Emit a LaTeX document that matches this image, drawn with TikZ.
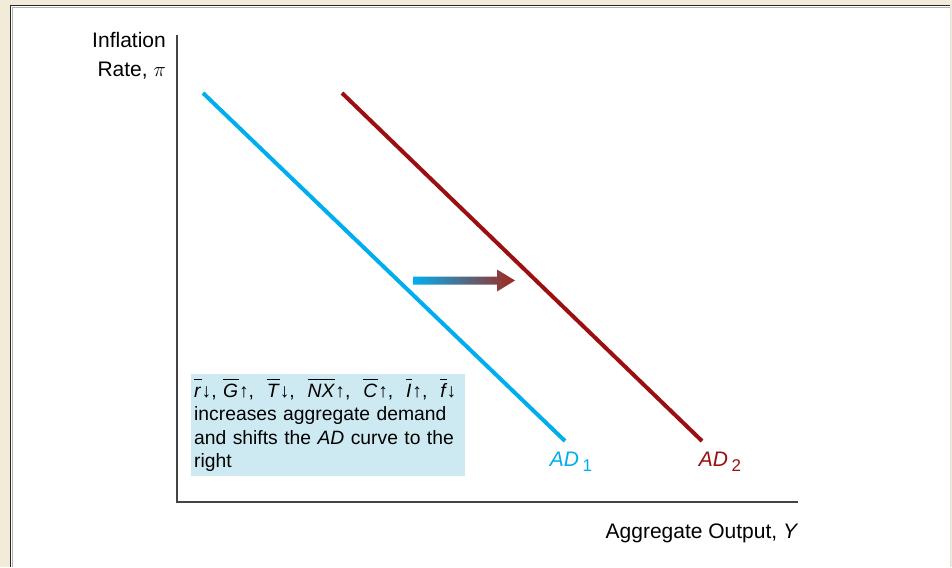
\documentclass[tikz,border=0pt]{standalone}
\usepackage{fontspec}
\setmainfont{Liberation Sans}
\usetikzlibrary{positioning}
\definecolor{adblue}{HTML}{00AEEF}
\definecolor{adred}{HTML}{9B0F10}
\definecolor{arrred}{HTML}{A3281C}
\definecolor{boxblue}{HTML}{CDEAF2}
\definecolor{pagebg}{HTML}{F3EBDA}
\definecolor{axisgray}{HTML}{444444}
\newcommand{\barit}[1]{$\overline{\raisebox{0pt}[16.2pt][0pt]{\itshape #1\kern1pt}}$}
\newcommand{\adsub}[1]{\,\raisebox{-5pt}{\fontsize{17}{17}\selectfont #1}}

\begin{document}
\begin{tikzpicture}[x=1pt,y=-1pt,font=\fontsize{21}{25}\selectfont,
  axis/.style={axisgray,line width=2.4pt},
  curve/.style={line width=4pt},
  lab/.style={inner sep=0pt},
  note/.style={fill=boxblue,text width=268pt,minimum height=102pt,align=left,
               inner xsep=3pt,inner ysep=4pt,anchor=north west,
               font=\fontsize{19.3}{23.5}\selectfont}]

% ---------------- page and panel --------------------------------------------
\fill[pagebg] (0,0) rectangle (952,567);
\fill[white] (10,5) rectangle (950,567);
\draw[black!85,line width=1.3pt] (10.6,567) -- (10.6,5.6) -- (950,5.6);
\draw[gray!60,line width=0.8pt] (12.2,567) -- (12.2,7.2) -- (950,7.2);
\draw[gray!25,line width=0.8pt] (950.4,6) -- (950.4,567);

% ---------------- axes -------------------------------------------------------
\coordinate (origin) at (177,502);
\draw[axis] (177,35) -- (origin) -- (798,502);
\node[lab,align=right,anchor=north east,font=\fontsize{21}{29}\selectfont]
  (infl) at (166,32) {Inflation\\Rate, $\pi$};
\node[lab] (output) at (702,533) {Aggregate Output, \textit{Y}};

% ---------------- the two demand curves --------------------------------------
\coordinate (ad1top) at (203,93);
\coordinate (ad1bot) at (565,441);
\coordinate (ad2top) at (342,93);
\coordinate (ad2bot) at (702,441);
\draw[curve,adblue] (ad1top) -- (ad1bot);
\draw[curve,adred] (ad2top) -- (ad2bot);
\node[lab,adblue] (ad1) at (571,462) {\textit{AD}\adsub{1}};
\node[lab,adred] (ad2) at (720,462) {\textit{AD}\adsub{2}};

% ---------------- shift arrow ------------------------------------------------
\shade[left color=adblue,right color=arrred]
  (413,276.5) -- (497,276.5) -- (497,269.5) -- (515,280.5) -- (497,291.5)
  -- (497,284.5) -- (413,284.5) -- cycle;

% ---------------- explanation box --------------------------------------------
\node[note] (box) at (191,374)
  {\barit{r}↓, \barit{G}↑,\ \ \barit{T}↓,\ \ \barit{NX}↑,\ \ \barit{C}↑,\ \
   \barit{I}↑,\ \ \barit{f}↓\\
   increases aggregate demand\\
   and shifts the \textit{AD} curve to the\\
   right};

\end{tikzpicture}
\end{document}
